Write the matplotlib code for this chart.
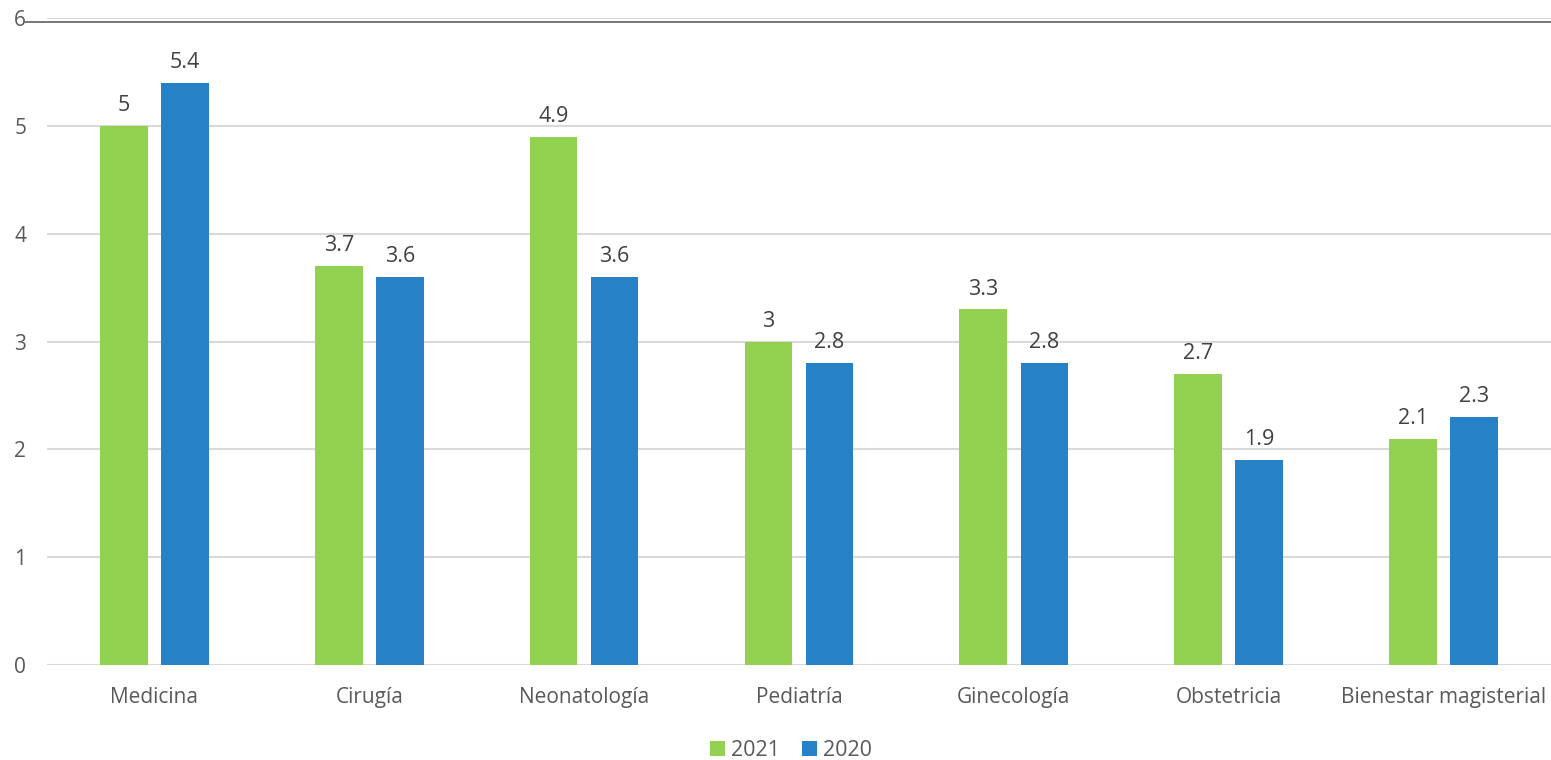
import numpy as np
import matplotlib.pyplot as plt
from matplotlib.lines import Line2D

categories = ["Medicina", "Cirugía", "Neonatología", "Pediatría",
              "Ginecología", "Obstetricia", "Bienestar magisterial"]
values_2021 = [5, 3.7, 4.9, 3, 3.3, 2.7, 2.1]
values_2020 = [5.4, 3.6, 3.6, 2.8, 2.8, 1.9, 2.3]
labels_2021 = ["5", "3.7", "4.9", "3", "3.3", "2.7", "2.1"]
labels_2020 = ["5.4", "3.6", "3.6", "2.8", "2.8", "1.9", "2.3"]

plt.rcParams['font.family'] = ['Open Sans', 'DejaVu Sans']

fig = plt.figure(figsize=(15.51, 7.6), dpi=100)
ax = fig.add_axes([0.0303, 0.125, 0.9697, 0.851])

x = np.arange(len(categories))
w = 0.222
off = 0.142
b1 = ax.bar(x - off, values_2021, w, color="#92D050", label="2021", zorder=3)
b2 = ax.bar(x + off, values_2020, w, color="#2681C6", label="2020", zorder=3)

for bars, labs in ((b1, labels_2021), (b2, labels_2020)):
    for rect, lab in zip(bars, labs):
        ax.annotate(lab, (rect.get_x() + rect.get_width() / 2, rect.get_height()),
                    xytext=(0, 7), textcoords="offset points",
                    ha="center", va="bottom", fontsize=15.5, color="#404040")

ax.set_xlim(-0.5, len(categories) - 0.5)
ax.set_ylim(0, 6)
ax.set_yticks(range(7))
ax.set_xticks(x)
ax.set_xticklabels(categories)
ax.tick_params(axis="both", length=0, labelsize=15, labelcolor="#595959")
ax.tick_params(axis="x", pad=16)
ax.tick_params(axis="y", pad=15)
ax.grid(axis="y", color="#d9d9d9", linewidth=1.5, zorder=0)
for s in ax.spines.values():
    s.set_visible(False)

# dark line at the top of the chart
fig.add_artist(Line2D([0.016, 1.0], [1 - 22 / 760, 1 - 22 / 760],
                      color="#606060", linewidth=1.2))

fig.legend(loc="center", bbox_to_anchor=(0.51, 0.013), ncol=2, frameon=False,
           fontsize=15.5, handlelength=0.7, handleheight=0.7, handletextpad=0.3,
           columnspacing=1.0, labelcolor="#595959")

plt.savefig("out.png", dpi=100)
